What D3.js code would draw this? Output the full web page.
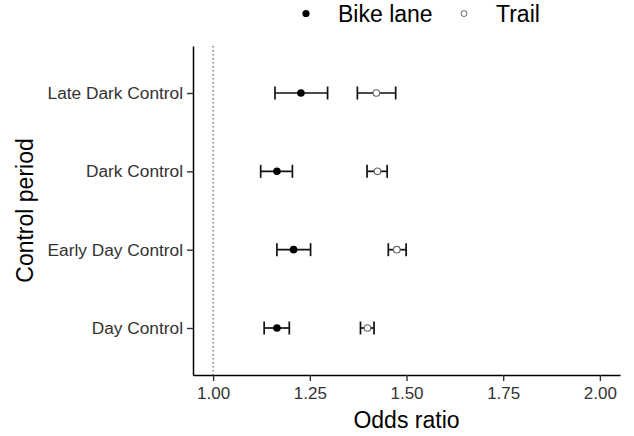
<!DOCTYPE html>
<html>
<head>
<meta charset="utf-8">
<script src="https://cdn.jsdelivr.net/npm/d3@7"></script>
<style>
body { margin: 0; background: #fff; }
svg text { font-family: "Liberation Sans", Arial, sans-serif; }
</style>
</head>
<body>
<svg id="chart" width="634" height="436"></svg>
<script>
// categories, top to bottom
var periods = ["Late Dark Control", "Dark Control", "Early Day Control", "Day Control"];

// odds ratios with 95% CI, same order as periods
var bikeOR = [1.227, 1.165, 1.208, 1.165];
var bikeLo = [1.160, 1.123, 1.165, 1.132];
var bikeHi = [1.296, 1.205, 1.252, 1.197];

var trailOR = [1.422, 1.425, 1.475, 1.399];
var trailLo = [1.373, 1.398, 1.453, 1.381];
var trailHi = [1.472, 1.450, 1.499, 1.416];

var xTicks = [1.00, 1.25, 1.50, 1.75, 2.00];
var legendItems = ["Bike lane", "Trail"];

var svg = d3.select("#chart");

var plotLeft = 193, plotRight = 620, plotTop = 46, plotBottom = 375;

var xScale = d3.scaleLinear()
    .domain([0.948, 2.052])
    .range([plotLeft, plotRight]);

var yScale = d3.scalePoint()
    .domain(periods)
    .range([plotTop, plotBottom])
    .padding(0.6);

// reference line at 1
svg.append("line")
    .attr("x1", xScale(1)).attr("x2", xScale(1))
    .attr("y1", plotTop).attr("y2", plotBottom)
    .attr("stroke", "#444")
    .attr("stroke-width", 1)
    .attr("stroke-dasharray", "1.5,2.5");

// axes
var xAxis = svg.append("g")
    .attr("transform", "translate(0," + plotBottom + ")")
    .call(d3.axisBottom(xScale).tickValues(xTicks).tickFormat(d3.format(".2f")).tickSize(6).tickSizeOuter(0));
xAxis.select(".domain").attr("stroke", "#000").attr("stroke-width", 1.5);
xAxis.selectAll(".tick line").attr("stroke", "#333").attr("stroke-width", 1.4);
xAxis.selectAll(".tick text").attr("font-size", 17).attr("fill", "#333").attr("dy", "0.9em");

var yAxis = svg.append("g")
    .attr("transform", "translate(" + plotLeft + ",0)")
    .call(d3.axisLeft(yScale).tickSize(6).tickSizeOuter(0));
yAxis.select(".domain").attr("stroke", "#000").attr("stroke-width", 1.5);
yAxis.selectAll(".tick line").attr("stroke", "#333").attr("stroke-width", 1.4);
yAxis.selectAll(".tick text").attr("font-size", 17.3).attr("fill", "#333").attr("x", -10);

// error bars
var drawSeries = function(vals, lo, hi, filled)
{
    var g = svg.append("g");
    var rows = periods.map(function(p, i) { return {p: p, v: vals[i], lo: lo[i], hi: hi[i]}; });
    var cap = 6.5;
    g.selectAll("line.bar").data(rows).enter().append("line")
        .attr("x1", function(d) { return xScale(d.lo); })
        .attr("x2", function(d) { return xScale(d.hi); })
        .attr("y1", function(d) { return yScale(d.p); })
        .attr("y2", function(d) { return yScale(d.p); })
        .attr("stroke", "#111").attr("stroke-width", 1.7);
    ["lo", "hi"].forEach(function(k) {
        g.selectAll("line.cap" + k).data(rows).enter().append("line")
            .attr("x1", function(d) { return xScale(d[k]); })
            .attr("x2", function(d) { return xScale(d[k]); })
            .attr("y1", function(d) { return yScale(d.p) - cap; })
            .attr("y2", function(d) { return yScale(d.p) + cap; })
            .attr("stroke", "#111").attr("stroke-width", 1.7);
    });
    g.selectAll("circle").data(rows).enter().append("circle")
        .attr("cx", function(d) { return xScale(d.v); })
        .attr("cy", function(d) { return yScale(d.p); })
        .attr("r", filled ? 3.8 : 3.3)
        .attr("fill", filled ? "#000" : "#fff")
        .attr("stroke", filled ? "#000" : "#666")
        .attr("stroke-width", filled ? 0 : 1.1);
};
drawSeries(bikeOR, bikeLo, bikeHi, true);
drawSeries(trailOR, trailLo, trailHi, false);

// axis titles
svg.append("text")
    .attr("x", (plotLeft + plotRight) / 2).attr("y", 428)
    .attr("text-anchor", "middle")
    .attr("font-size", 23)
    .text("Odds ratio");

svg.append("text")
    .attr("transform", "translate(33," + ((plotTop + plotBottom) / 2) + ") rotate(-90)")
    .attr("text-anchor", "middle")
    .attr("font-size", 23)
    .text("Control period");

// legend
var legX = [306, 464];
var legG = svg.append("g");
legendItems.forEach(function(name, i) {
    legG.append("circle")
        .attr("cx", legX[i]).attr("cy", 13.5)
        .attr("r", i == 0 ? 3.6 : 3)
        .attr("fill", i == 0 ? "#000" : "#fff")
        .attr("stroke", i == 0 ? "#000" : "#666")
        .attr("stroke-width", i == 0 ? 0 : 1);
    legG.append("text")
        .attr("x", legX[i] + 32).attr("y", 22)
        .attr("font-size", 23)
        .text(name);
});
</script>
</body>
</html>
